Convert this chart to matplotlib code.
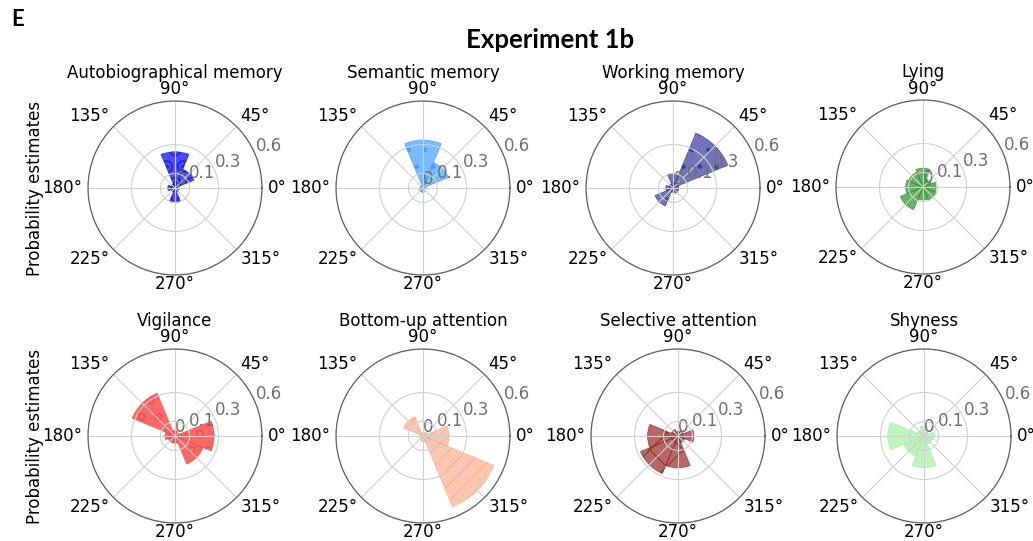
import numpy as np
import matplotlib
matplotlib.use('Agg')
import matplotlib.pyplot as plt

# Bin centres (degrees) shared by every rose plot
angles_deg = [0, 45, 90, 135, 180, 225, 270, 315]

# Probability estimates per bin
autobiographical = [0.02, 0.14, 0.25, 0.03, 0.05, 0.03, 0.10, 0.03]
semantic = [0.02, 0.19, 0.33, 0.02, 0.02, 0.03, 0.03, 0.01]
working = [0.04, 0.41, 0.10, 0.03, 0.05, 0.135, 0.03, 0.04]
lying = [0.09, 0.06, 0.13, 0.11, 0.12, 0.17, 0.09, 0.10]
vigilance = [0.27, 0.03, 0.04, 0.32, 0.07, 0.05, 0.05, 0.21]
bottom_up = [0.18, 0.03, 0.02, 0.145, 0.02, 0.02, 0.04, 0.53]
selective = [0.11, 0.04, 0.03, 0.05, 0.21, 0.28, 0.22, 0.05]
shyness = [0.075, 0.03, 0.07, 0.05, 0.25, 0.15, 0.22, 0.06]

titles = ['Autobiographical memory', 'Semantic memory', 'Working memory', 'Lying',
          'Vigilance', 'Bottom-up attention', 'Selective attention', 'Shyness']
values = [autobiographical, semantic, working, lying,
          vigilance, bottom_up, selective, shyness]
colors = ['blue', 'dodgerblue', 'navy', 'green', 'red', 'lightsalmon', 'darkred', 'lightgreen']
alphas = [0.7, 0.6, 0.55, 0.6, 0.6, 0.6, 0.6, 0.6]
hatches = ['O.', '.', '.', '', 'o', '//', 'x', '']
edge_colors = ['#2020c0', '#3a8ee8', '#2a2a80', '#2e7d2e', '#e05050', '#f0a890', '#7a2020', '#a8e8a8']

r_ticks = [0, 0.1, 0.3, 0.6]

W, H = 1033, 541
fig = plt.figure(figsize=(W / 100, H / 100), dpi=100)

# axes centres in pixels (x, y from top), radius in pixels
centres = [(175, 188), (423, 188), (673, 188), (923, 187),
           (175, 436), (423, 436), (678, 436), (924, 436)]
rad = 87

theta = np.deg2rad(angles_deg)
width = 2 * np.pi / len(angles_deg)

for i, (cx, cy) in enumerate(centres):
    ax = fig.add_axes([(cx - rad) / W, 1 - (cy + rad) / H, 2 * rad / W, 2 * rad / H],
                      projection='polar')
    ax.bar(theta, values[i], width=width, color=colors[i], alpha=alphas[i],
           hatch=hatches[i], edgecolor=edge_colors[i], linewidth=0.6)
    ax.set_ylim(0, 0.6)
    ax.set_rticks(r_ticks)
    ax.set_yticklabels(['0', '0.1', '0.3', '0.6'], color='#707070', fontsize=12)
    ax.set_rlabel_position(22.5)
    ax.set_thetagrids(angles_deg, labels=[])
    # degree labels hugging the outer circle
    for a, t in zip(angles_deg, theta):
        c, s = np.cos(t), np.sin(t)
        ha = 'left' if c > 0.1 else ('right' if c < -0.1 else 'center')
        va = 'bottom' if s > 0.1 else ('top' if s < -0.1 else 'center')
        dy = 1.8 * s if s > 0 else 0.2 * s
        ax.annotate(f'{a}°', (t, 0.6), xytext=(4 * c, dy), textcoords='offset points',
                    ha=ha, va=va, fontsize=12, annotation_clip=False)
    ax.grid(color='#d0d0d0', linewidth=0.8)
    ax.spines['polar'].set_color('#606060')
    ax.spines['polar'].set_linewidth(0.9)
    ax.text(0.5, 1.13, titles[i], transform=ax.transAxes, ha='center', va='baseline', fontsize=12)

fig.text(35 / W, 1 - 188 / H, 'Probability estimates', rotation=90, ha='center', va='center', fontsize=12)
fig.text(35 / W, 1 - 436 / H, 'Probability estimates', rotation=90, ha='center', va='center', fontsize=12)

fig.text(550 / W, 1 - 40 / H, 'Experiment 1b', ha='center', va='center',
         fontsize=18.5, fontweight='bold', family='Lato')
fig.text(11 / W, 1 - 20 / H, 'E', ha='left', va='center', fontsize=16, fontweight='bold', family='Lato')

fig.savefig('out.png', dpi=100)
